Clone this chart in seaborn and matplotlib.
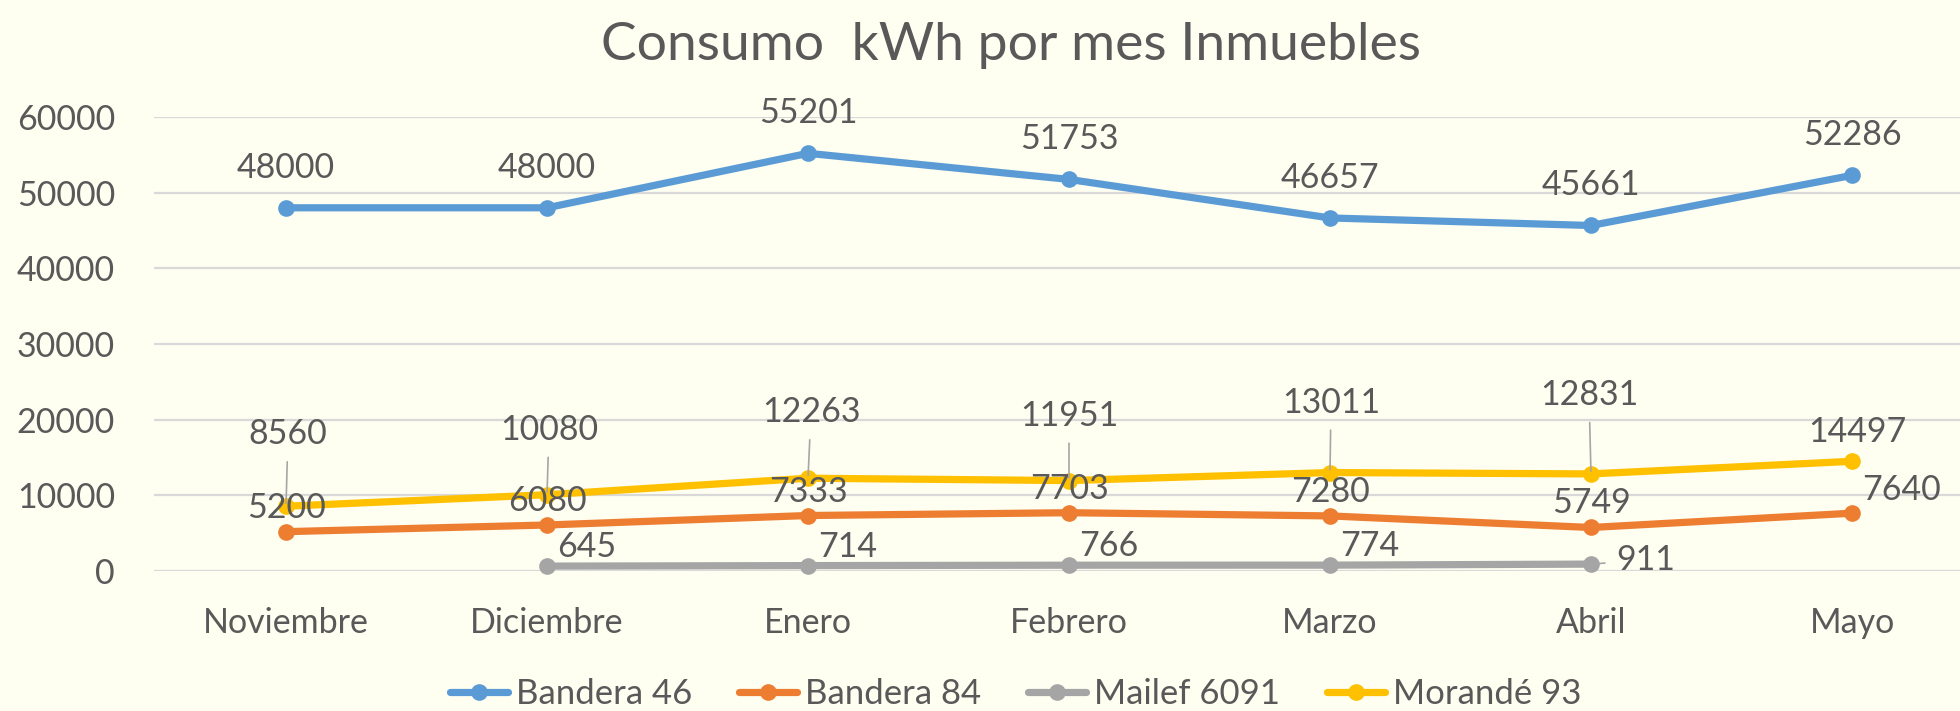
import numpy as np
import pandas as pd
import matplotlib
matplotlib.use('Agg')
import matplotlib.pyplot as plt
from matplotlib.lines import Line2D
from matplotlib.ticker import FuncFormatter
import seaborn as sns

# ── Data ─────────────────────────────────────────────────────
months      = ['Noviembre', 'Diciembre', 'Enero', 'Febrero', 'Marzo', 'Abril', 'Mayo']
series      = ['Bandera 46', 'Bandera 84', 'Mailef 6091', 'Morandé 93']
bandera_46  = [48000, 48000, 55201, 51753, 46657, 45661, 52286]
bandera_84  = [5200, 6080, 7333, 7703, 7280, 5749, 7640]
mailef_6091 = [np.nan, 645, 714, 766, 774, 911, np.nan]
morande_93  = [8560, 10080, 12263, 11951, 13011, 12831, 14497]
title       = 'Consumo  kWh por mes Inmuebles'

# ── Style ────────────────────────────────────────────────────
BG     = '#FEFEF1'
TXT    = '#595959'
GRID   = '#D9D9D9'
COLORS = ['#5B9BD5', '#ED7D31', '#A5A5A5', '#FFC000']
FS     = 24.5
W, H   = 1960, 711

# label offsets in pixels (dx, dy of label centre) and leader flags
label_offsets = [
    [(0, 42)] * 7,
    [(0, 26)] * 6 + [(49, 25)],
    [(40, 21)] * 5 + [(55, 6)] + [(0, 0)],
    [(2, 74), (2, 67), (3, 68), (0, 67), (1, 72), (-2, 81), (5, 31)],
]
leaders = [
    [False] * 7,
    [False] * 7,
    [False] * 5 + [True, False],
    [True] * 6 + [False],
]

sns.set_theme(style='white')
plt.rcParams['font.family'] = ['Lato', 'DejaVu Sans']

values = [bandera_46, bandera_84, mailef_6091, morande_93]
df = pd.DataFrame({
    'mes':   months * len(series),
    'serie': np.repeat(series, len(months)),
    'kwh':   np.concatenate(values),
})
df['pos'] = pd.Categorical(df['mes'], categories=months).codes
df = df.dropna()

fig = plt.figure(figsize=(W / 100, H / 100), dpi=100, facecolor=BG)
ax = fig.add_axes([154 / W, (H - 571) / H, 1 - 154 / W, (571 - 117) / H])
ax.set_facecolor(BG)

sns.lineplot(data=df, x='pos', y='kwh', hue='serie', hue_order=series,
             palette=COLORS, marker='o', markersize=12, markeredgewidth=0,
             linewidth=5.2, legend=False, ax=ax, clip_on=False, sort=False)

ax.set_xlim(-132 / 261, (W - 286) / 261)
ax.set_ylim(0, 60000)
ax.set_xticks(range(len(months)))
ax.set_xticklabels(months)
ax.set_yticks(range(0, 60001, 10000))
ax.yaxis.set_major_formatter(FuncFormatter(lambda v, _: f'{v:.0f}'))
ax.tick_params(axis='both', length=0, labelsize=FS, colors=TXT)
ax.tick_params(axis='y', pad=28)
ax.tick_params(axis='x', pad=26)
ax.grid(axis='y', color=GRID, linewidth=1.6)
ax.grid(axis='x', visible=False)
ax.set_axisbelow(True)
ax.set_xlabel('')
ax.set_ylabel('')
for s in ax.spines.values():
    s.set_visible(False)

# ── Data labels ──────────────────────────────────────────────
for vals, offs, leads in zip(values, label_offsets, leaders):
    for j, v in enumerate(vals):
        if np.isnan(v):
            continue
        dx, dy = offs[j]
        kw = {}
        if leads[j]:
            kw['arrowprops'] = dict(arrowstyle='-', color='#A6A6A6', lw=1.2,
                                    shrinkA=6, shrinkB=2)
        ax.annotate(f'{v:.0f}', xy=(j, v), xytext=(dx, dy - 12),
                    textcoords='offset pixels', ha='center', va='baseline',
                    fontsize=FS, color=TXT, zorder=10, annotation_clip=False, **kw)

# ── Title & legend ───────────────────────────────────────────
fig.text(1011 / W, 1 - 60 / H, title, ha='center', va='baseline',
         fontsize=38.5, color=TXT)

handles = [Line2D([0], [0], color=c, lw=5.2, marker='o', markersize=12,
                  markeredgewidth=0) for c in COLORS]
fig.legend(handles, series, loc='center', bbox_to_anchor=(1016 / W, 1 - 694 / H),
           ncol=4, frameon=False, fontsize=FS + 0.5, handlelength=1.65,
           handletextpad=0.25, columnspacing=1.35, labelcolor=TXT)

fig.savefig('out.png', dpi=100, facecolor=BG)
